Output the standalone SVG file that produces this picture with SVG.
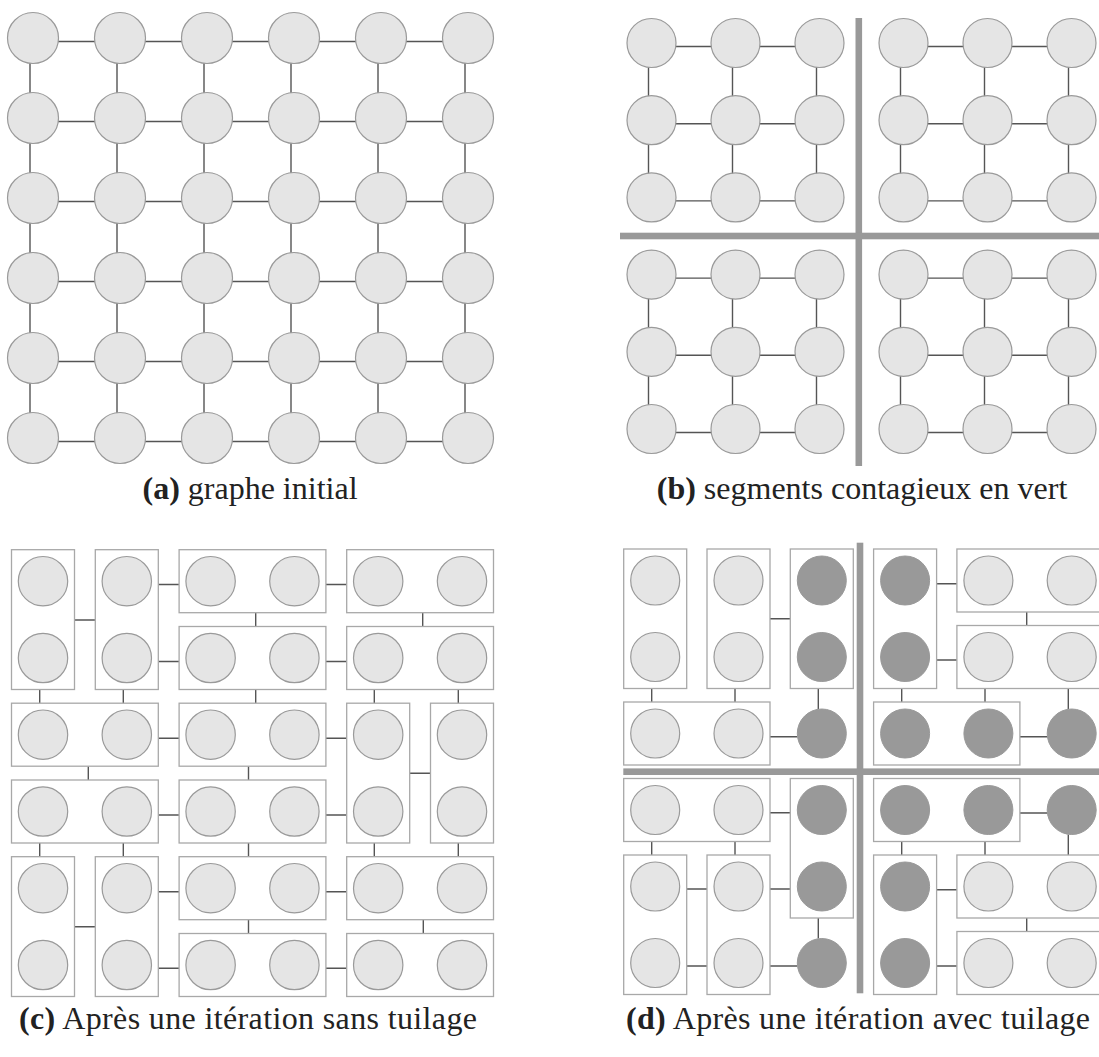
<svg xmlns="http://www.w3.org/2000/svg" width="1099" height="1057" viewBox="0 0 1099 1057">
<style>
.n{fill:#e5e5e5;stroke:#9a9a9a;stroke-width:1.2}
.d{fill:#999;stroke:#999;stroke-width:1}
.e{stroke:#555;stroke-width:1.4;fill:none}
.b{fill:#fff;stroke:#a8a8a8;stroke-width:1.3}
.bar{fill:#999}
</style>
<rect width="1099" height="1057" fill="#fff"/>

<!-- ===== Panel (a) ===== -->
<g id="a-connectors">
<path class="e" d="M33 41.5H468M33 121.5H468M33 201.5H468M33 281.5H468M33 361.5H468M33 441.5H468M30 38V438M117 38V438M204 38V438M291 38V438M378 38V438M465 38V438"/>
</g>
<g id="a-nodes">
<g id="a00"><circle class="n" cx="33" cy="38" r="25.5"/></g>
<g id="a01"><circle class="n" cx="120" cy="38" r="25.5"/></g>
<g id="a02"><circle class="n" cx="207" cy="38" r="25.5"/></g>
<g id="a03"><circle class="n" cx="294" cy="38" r="25.5"/></g>
<g id="a04"><circle class="n" cx="381" cy="38" r="25.5"/></g>
<g id="a05"><circle class="n" cx="468" cy="38" r="25.5"/></g>
<g id="a10"><circle class="n" cx="33" cy="118" r="25.5"/></g>
<g id="a11"><circle class="n" cx="120" cy="118" r="25.5"/></g>
<g id="a12"><circle class="n" cx="207" cy="118" r="25.5"/></g>
<g id="a13"><circle class="n" cx="294" cy="118" r="25.5"/></g>
<g id="a14"><circle class="n" cx="381" cy="118" r="25.5"/></g>
<g id="a15"><circle class="n" cx="468" cy="118" r="25.5"/></g>
<g id="a20"><circle class="n" cx="33" cy="198" r="25.5"/></g>
<g id="a21"><circle class="n" cx="120" cy="198" r="25.5"/></g>
<g id="a22"><circle class="n" cx="207" cy="198" r="25.5"/></g>
<g id="a23"><circle class="n" cx="294" cy="198" r="25.5"/></g>
<g id="a24"><circle class="n" cx="381" cy="198" r="25.5"/></g>
<g id="a25"><circle class="n" cx="468" cy="198" r="25.5"/></g>
<g id="a30"><circle class="n" cx="33" cy="278" r="25.5"/></g>
<g id="a31"><circle class="n" cx="120" cy="278" r="25.5"/></g>
<g id="a32"><circle class="n" cx="207" cy="278" r="25.5"/></g>
<g id="a33"><circle class="n" cx="294" cy="278" r="25.5"/></g>
<g id="a34"><circle class="n" cx="381" cy="278" r="25.5"/></g>
<g id="a35"><circle class="n" cx="468" cy="278" r="25.5"/></g>
<g id="a40"><circle class="n" cx="33" cy="358" r="25.5"/></g>
<g id="a41"><circle class="n" cx="120" cy="358" r="25.5"/></g>
<g id="a42"><circle class="n" cx="207" cy="358" r="25.5"/></g>
<g id="a43"><circle class="n" cx="294" cy="358" r="25.5"/></g>
<g id="a44"><circle class="n" cx="381" cy="358" r="25.5"/></g>
<g id="a45"><circle class="n" cx="468" cy="358" r="25.5"/></g>
<g id="a50"><circle class="n" cx="33" cy="438" r="25.5"/></g>
<g id="a51"><circle class="n" cx="120" cy="438" r="25.5"/></g>
<g id="a52"><circle class="n" cx="207" cy="438" r="25.5"/></g>
<g id="a53"><circle class="n" cx="294" cy="438" r="25.5"/></g>
<g id="a54"><circle class="n" cx="381" cy="438" r="25.5"/></g>
<g id="a55"><circle class="n" cx="468" cy="438" r="25.5"/></g>
</g>

<!-- ===== Panel (b) ===== -->
<g id="b-bars">
<rect class="bar" x="855.5" y="18" width="6.6" height="448"/>
<rect class="bar" x="620" y="232.7" width="479" height="6.6"/>
</g>
<g id="b-connectors">
<path class="e" d="M651.5 46.5H819.5M651.5 123.7H819.5M651.5 200.9H819.5M648.5 43V197.4M732.5 43V197.4M816.5 43V197.4"/>
<path class="e" d="M903.5 46.5H1071.5M903.5 123.7H1071.5M903.5 200.9H1071.5M900.5 43V197.4M984.5 43V197.4M1068.5 43V197.4"/>
<path class="e" d="M651.5 278.1H819.5M651.5 355.3H819.5M651.5 432.5H819.5M648.5 274.6V429M732.5 274.6V429M816.5 274.6V429"/>
<path class="e" d="M903.5 278.1H1071.5M903.5 355.3H1071.5M903.5 432.5H1071.5M900.5 274.6V429M984.5 274.6V429M1068.5 274.6V429"/>
</g>
<g id="b-nodes">
<g id="b00"><circle class="n" cx="651.5" cy="43" r="24.5"/></g>
<g id="b01"><circle class="n" cx="735.5" cy="43" r="24.5"/></g>
<g id="b02"><circle class="n" cx="819.5" cy="43" r="24.5"/></g>
<g id="b03"><circle class="n" cx="903.5" cy="43" r="24.5"/></g>
<g id="b04"><circle class="n" cx="987.5" cy="43" r="24.5"/></g>
<g id="b05"><circle class="n" cx="1071.5" cy="43" r="24.5"/></g>
<g id="b10"><circle class="n" cx="651.5" cy="120.2" r="24.5"/></g>
<g id="b11"><circle class="n" cx="735.5" cy="120.2" r="24.5"/></g>
<g id="b12"><circle class="n" cx="819.5" cy="120.2" r="24.5"/></g>
<g id="b13"><circle class="n" cx="903.5" cy="120.2" r="24.5"/></g>
<g id="b14"><circle class="n" cx="987.5" cy="120.2" r="24.5"/></g>
<g id="b15"><circle class="n" cx="1071.5" cy="120.2" r="24.5"/></g>
<g id="b20"><circle class="n" cx="651.5" cy="197.4" r="24.5"/></g>
<g id="b21"><circle class="n" cx="735.5" cy="197.4" r="24.5"/></g>
<g id="b22"><circle class="n" cx="819.5" cy="197.4" r="24.5"/></g>
<g id="b23"><circle class="n" cx="903.5" cy="197.4" r="24.5"/></g>
<g id="b24"><circle class="n" cx="987.5" cy="197.4" r="24.5"/></g>
<g id="b25"><circle class="n" cx="1071.5" cy="197.4" r="24.5"/></g>
<g id="b30"><circle class="n" cx="651.5" cy="274.6" r="24.5"/></g>
<g id="b31"><circle class="n" cx="735.5" cy="274.6" r="24.5"/></g>
<g id="b32"><circle class="n" cx="819.5" cy="274.6" r="24.5"/></g>
<g id="b33"><circle class="n" cx="903.5" cy="274.6" r="24.5"/></g>
<g id="b34"><circle class="n" cx="987.5" cy="274.6" r="24.5"/></g>
<g id="b35"><circle class="n" cx="1071.5" cy="274.6" r="24.5"/></g>
<g id="b40"><circle class="n" cx="651.5" cy="351.8" r="24.5"/></g>
<g id="b41"><circle class="n" cx="735.5" cy="351.8" r="24.5"/></g>
<g id="b42"><circle class="n" cx="819.5" cy="351.8" r="24.5"/></g>
<g id="b43"><circle class="n" cx="903.5" cy="351.8" r="24.5"/></g>
<g id="b44"><circle class="n" cx="987.5" cy="351.8" r="24.5"/></g>
<g id="b45"><circle class="n" cx="1071.5" cy="351.8" r="24.5"/></g>
<g id="b50"><circle class="n" cx="651.5" cy="429" r="24.5"/></g>
<g id="b51"><circle class="n" cx="735.5" cy="429" r="24.5"/></g>
<g id="b52"><circle class="n" cx="819.5" cy="429" r="24.5"/></g>
<g id="b53"><circle class="n" cx="903.5" cy="429" r="24.5"/></g>
<g id="b54"><circle class="n" cx="987.5" cy="429" r="24.5"/></g>
<g id="b55"><circle class="n" cx="1071.5" cy="429" r="24.5"/></g>
</g>

<!-- ===== Panel (c) ===== -->
<g id="c-connectors">
<path class="e" d="M74.5 620H95.3M158.3 584.5H179.1M325.9 584.5H346.7M255.7 612.7V626.5M422.7 612.7V626.5M158.3 661.5H179.1M325.9 661.5H346.7M39.7 689.5V703.2M123.3 689.5V703.2M255.7 689.5V703.2M374.3 689.5V703.2M458.3 689.5V703.2M158.3 738.3H179.1M325.9 738.3H346.7M409.7 773.3H430.5M88.3 766.2V780M248.5 766.2V780M158.3 815H179.1M325.9 815H346.7M39.7 843V856.7M123.3 843V856.7M248.5 843V856.7M374.3 843V856.7M458.3 843V856.7M74.5 926.7H95.3M158.3 891.7H179.1M325.9 891.7H346.7M248.5 919.7V933.5M423.3 919.7V933.5M158.3 968.3H179.1M325.9 968.3H346.7"/>
</g>
<g id="c-nodes">
<g id="cA"><rect class="b" x="11.5" y="549.7" width="63" height="139.8"/><circle class="n" cx="43" cy="581.2" r="24.7"/><circle class="n" cx="43" cy="658" r="24.7"/></g>
<g id="cB"><rect class="b" x="95.3" y="549.7" width="63" height="139.8"/><circle class="n" cx="126.8" cy="581.2" r="24.7"/><circle class="n" cx="126.8" cy="658" r="24.7"/></g>
<g id="cC"><rect class="b" x="179.1" y="549.7" width="146.8" height="63"/><circle class="n" cx="210.6" cy="581.2" r="24.7"/><circle class="n" cx="294.4" cy="581.2" r="24.7"/></g>
<g id="cD"><rect class="b" x="346.7" y="549.7" width="146.8" height="63"/><circle class="n" cx="378.2" cy="581.2" r="24.7"/><circle class="n" cx="462" cy="581.2" r="24.7"/></g>
<g id="cE"><rect class="b" x="179.1" y="626.5" width="146.8" height="63"/><circle class="n" cx="210.6" cy="658" r="24.7"/><circle class="n" cx="294.4" cy="658" r="24.7"/></g>
<g id="cF"><rect class="b" x="346.7" y="626.5" width="146.8" height="63"/><circle class="n" cx="378.2" cy="658" r="24.7"/><circle class="n" cx="462" cy="658" r="24.7"/></g>
<g id="cG"><rect class="b" x="11.5" y="703.2" width="146.8" height="63"/><circle class="n" cx="43" cy="734.7" r="24.7"/><circle class="n" cx="126.8" cy="734.7" r="24.7"/></g>
<g id="cH"><rect class="b" x="179.1" y="703.2" width="146.8" height="63"/><circle class="n" cx="210.6" cy="734.7" r="24.7"/><circle class="n" cx="294.4" cy="734.7" r="24.7"/></g>
<g id="cI"><rect class="b" x="346.7" y="703.2" width="63" height="139.8"/><circle class="n" cx="378.2" cy="734.7" r="24.7"/><circle class="n" cx="378.2" cy="811.5" r="24.7"/></g>
<g id="cJ"><rect class="b" x="430.5" y="703.2" width="63" height="139.8"/><circle class="n" cx="462" cy="734.7" r="24.7"/><circle class="n" cx="462" cy="811.5" r="24.7"/></g>
<g id="cK"><rect class="b" x="11.5" y="780" width="146.8" height="63"/><circle class="n" cx="43" cy="811.5" r="24.7"/><circle class="n" cx="126.8" cy="811.5" r="24.7"/></g>
<g id="cL"><rect class="b" x="179.1" y="780" width="146.8" height="63"/><circle class="n" cx="210.6" cy="811.5" r="24.7"/><circle class="n" cx="294.4" cy="811.5" r="24.7"/></g>
<g id="cM"><rect class="b" x="11.5" y="856.7" width="63" height="139.8"/><circle class="n" cx="43" cy="888.2" r="24.7"/><circle class="n" cx="43" cy="965" r="24.7"/></g>
<g id="cN"><rect class="b" x="95.3" y="856.7" width="63" height="139.8"/><circle class="n" cx="126.8" cy="888.2" r="24.7"/><circle class="n" cx="126.8" cy="965" r="24.7"/></g>
<g id="cO"><rect class="b" x="179.1" y="856.7" width="146.8" height="63"/><circle class="n" cx="210.6" cy="888.2" r="24.7"/><circle class="n" cx="294.4" cy="888.2" r="24.7"/></g>
<g id="cP"><rect class="b" x="346.7" y="856.7" width="146.8" height="63"/><circle class="n" cx="378.2" cy="888.2" r="24.7"/><circle class="n" cx="462" cy="888.2" r="24.7"/></g>
<g id="cQ"><rect class="b" x="179.1" y="933.5" width="146.8" height="63"/><circle class="n" cx="210.6" cy="965" r="24.7"/><circle class="n" cx="294.4" cy="965" r="24.7"/></g>
<g id="cR"><rect class="b" x="346.7" y="933.5" width="146.8" height="63"/><circle class="n" cx="378.2" cy="965" r="24.7"/><circle class="n" cx="462" cy="965" r="24.7"/></g>
</g>

<!-- ===== Panel (d) ===== -->
<g id="d-bars">
<rect class="bar" x="856.7" y="542.7" width="6.6" height="450.6"/>
<rect class="bar" x="623.3" y="768.4" width="475.7" height="6.6"/>
</g>
<g id="d-connectors">
<path class="e" d="M770 618.7H790.3M651.7 688.5V702M735 688.5V702M818.3 688.5V709M770 736.7H797.3M936.6 583.7H956.9M936.6 660H956.9M1026.7 612V625.5M901.7 688.5V702M985 688.5V702M1068.3 688.5V709M1019.9 736.7H1047.2M770 812.7H790.3M651.7 841.5V855M735 841.5V855M686.7 889H707M686.7 966H707M770 889H790.3M770 966H797.3M818.3 918V938.5M1019.9 813H1047.2M901.7 841.5V855M985 841.5V855M1068.3 834.5V855M936.6 889.7H956.9M936.6 966H956.9M1026.7 918V931.5"/>
</g>
<g id="d-nodes">
<g id="d-a1"><rect class="b" x="623.7" y="549" width="63" height="139.5"/><circle class="n" cx="655.2" cy="580.5" r="24.5"/><circle class="n" cx="655.2" cy="657" r="24.5"/></g>
<g id="d-a2"><rect class="b" x="707" y="549" width="63" height="139.5"/><circle class="n" cx="738.5" cy="580.5" r="24.5"/><circle class="n" cx="738.5" cy="657" r="24.5"/></g>
<g id="d-a3"><rect class="b" x="790.3" y="549" width="63" height="139.5"/><circle class="d" cx="821.8" cy="580.5" r="24.5"/><circle class="d" cx="821.8" cy="657" r="24.5"/></g>
<g id="d-a4"><rect class="b" x="623.7" y="702" width="146.3" height="63"/><circle class="n" cx="655.2" cy="733.5" r="24.5"/><circle class="n" cx="738.5" cy="733.5" r="24.5"/></g>
<g id="d-a5"><circle class="d" cx="821.8" cy="733.5" r="24.5"/></g>
<g id="d-b1"><rect class="b" x="873.6" y="549" width="63" height="139.5"/><circle class="d" cx="905.1" cy="580.5" r="24.5"/><circle class="d" cx="905.1" cy="657" r="24.5"/></g>
<g id="d-b2"><rect class="b" x="956.9" y="549" width="146.3" height="63"/><circle class="n" cx="988.4" cy="580.5" r="24.5"/><circle class="n" cx="1071.7" cy="580.5" r="24.5"/></g>
<g id="d-b3"><rect class="b" x="956.9" y="625.5" width="146.3" height="63"/><circle class="n" cx="988.4" cy="657" r="24.5"/><circle class="n" cx="1071.7" cy="657" r="24.5"/></g>
<g id="d-b4"><rect class="b" x="873.6" y="702" width="146.3" height="63"/><circle class="d" cx="905.1" cy="733.5" r="24.5"/><circle class="d" cx="988.4" cy="733.5" r="24.5"/></g>
<g id="d-b5"><circle class="d" cx="1071.7" cy="733.5" r="24.5"/></g>
<g id="d-c1"><rect class="b" x="623.7" y="778.5" width="146.3" height="63"/><circle class="n" cx="655.2" cy="810" r="24.5"/><circle class="n" cx="738.5" cy="810" r="24.5"/></g>
<g id="d-c2"><rect class="b" x="790.3" y="778.5" width="63" height="139.5"/><circle class="d" cx="821.8" cy="810" r="24.5"/><circle class="d" cx="821.8" cy="886.5" r="24.5"/></g>
<g id="d-c3"><rect class="b" x="623.7" y="855" width="63" height="139.5"/><circle class="n" cx="655.2" cy="886.5" r="24.5"/><circle class="n" cx="655.2" cy="963" r="24.5"/></g>
<g id="d-c4"><rect class="b" x="707" y="855" width="63" height="139.5"/><circle class="n" cx="738.5" cy="886.5" r="24.5"/><circle class="n" cx="738.5" cy="963" r="24.5"/></g>
<g id="d-c5"><circle class="d" cx="821.8" cy="963" r="24.5"/></g>
<g id="d-d1"><rect class="b" x="873.6" y="778.5" width="146.3" height="63"/><circle class="d" cx="905.1" cy="810" r="24.5"/><circle class="d" cx="988.4" cy="810" r="24.5"/></g>
<g id="d-d2"><circle class="d" cx="1071.7" cy="810" r="24.5"/></g>
<g id="d-d3"><rect class="b" x="873.6" y="855" width="63" height="139.5"/><circle class="d" cx="905.1" cy="886.5" r="24.5"/><circle class="d" cx="905.1" cy="963" r="24.5"/></g>
<g id="d-d4"><rect class="b" x="956.9" y="855" width="146.3" height="63"/><circle class="n" cx="988.4" cy="886.5" r="24.5"/><circle class="n" cx="1071.7" cy="886.5" r="24.5"/></g>
<g id="d-d5"><rect class="b" x="956.9" y="931.5" width="146.3" height="63"/><circle class="n" cx="988.4" cy="963" r="24.5"/><circle class="n" cx="1071.7" cy="963" r="24.5"/></g>
</g>

<!-- ===== Captions ===== -->
<g id="captions" font-family="'Liberation Serif', 'DejaVu Serif', 'Times New Roman', serif" fill="#222" text-anchor="middle" font-size="32">
<text x="250" y="499"><tspan font-weight="bold">(a)</tspan> graphe initial</text>
<text x="862" y="499"><tspan font-weight="bold">(b)</tspan> segments contagieux en vert</text>
<text x="248" y="1029" textLength="458" lengthAdjust="spacing"><tspan font-weight="bold">(c)</tspan> Après une itération sans tuilage</text>
<text x="858" y="1029" textLength="464" lengthAdjust="spacing"><tspan font-weight="bold">(d)</tspan> Après une itération avec tuilage</text>
</g>
</svg>
